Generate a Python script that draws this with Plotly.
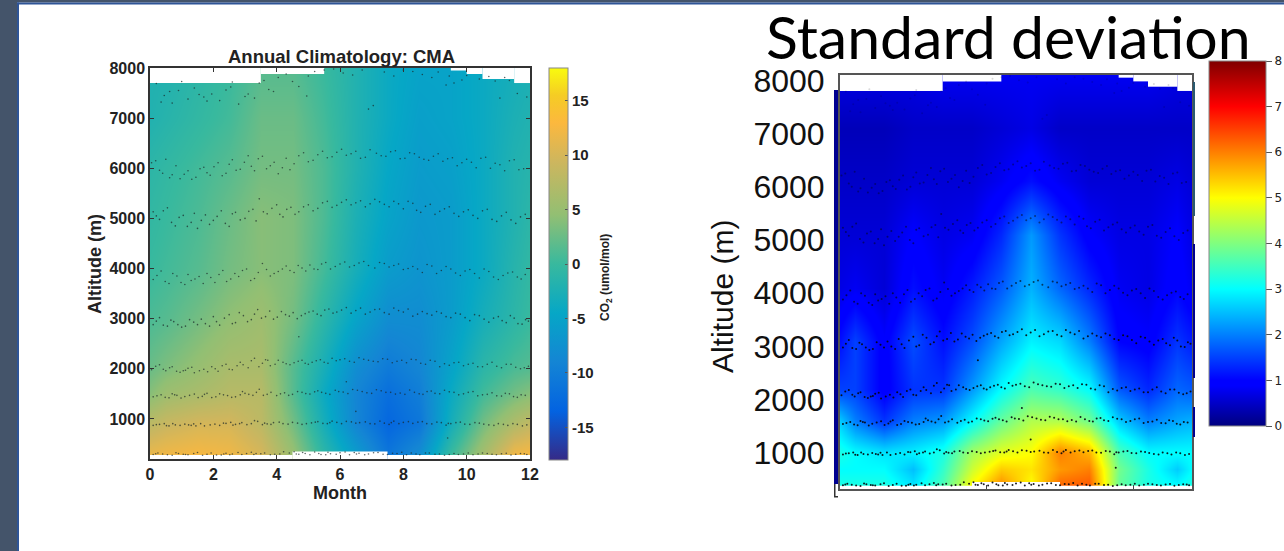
import plotly.graph_objects as go

W, H = 1284, 551

# ---- gridded values -------------------------------------------------------
months = [0, 0.5, 1.5, 2.5, 3.5, 4.5, 5.5, 6.5, 7.5, 8.5, 9.5, 10.5, 11.5, 12]

clim_alt = [200, 300, 900, 1500, 2000, 3000, 4000, 5000, 6000, 7000, 8000]
clim_200 = [12, 12.5, 12.5, 12, 10.5, 5, -1, -6, -11, -8, 0, 7, 13, 13]
clim_300 = [11.5, 12, 12.5, 12, 10, 5, -1, -6, -11, -8, 0, 6, 12, 12.5]
clim_900 = [8, 9, 10, 10, 8, 3, -3, -9, -13, -11, -3, 3, 7, 8.5]
clim_1500 = [4, 5.5, 6.5, 7.5, 7.5, 1.5, -4, -9, -12, -10, -4, 0.5, 3, 4]
clim_2000 = [2.5, 3.5, 5, 6.5, 6.5, 1.5, -3, -8, -10.5, -9, -5, -1, 1, 1.5]
clim_3000 = [1, 1.5, 3, 4.5, 5.5, 3, -1, -5, -8, -8, -6, -3, -1, 0]
clim_4000 = [0, 0.5, 1.5, 3, 4, 3.5, 0.5, -3, -6, -7, -6, -4, -1.5, -0.5]
clim_5000 = [-0.5, 0, 1, 2.5, 4, 3.5, 1, -2.5, -5, -6.5, -6, -4, -2, -1]
clim_6000 = [-1, -0.5, 0.5, 1.5, 3, 3, 1, -2, -4.5, -6, -5.5, -4, -2, -1.5]
clim_7000 = [-2, -1.5, -0.5, 0.5, 2.5, 2.5, 0.5, -2, -4, -5.5, -5, -4, -2.5, -2]
clim_8000 = [-2, -2, -1, 0, 1.5, 1.5, 0, -2, -4, -5, -5, -4, -3, -2.5]
clim_z = [clim_200, clim_300, clim_900, clim_1500, clim_2000, clim_3000,
          clim_4000, clim_5000, clim_6000, clim_7000, clim_8000]

std_alt = [200, 300, 600, 900, 1500, 2100, 3000, 4000, 5000, 6000, 7000, 8000]
std_200 = [3.2, 3.2, 3.2, 2.8, 3.6, 5.0, 5.9, 5.0, 6.2, 6.3, 3.8, 3.2, 3.0, 3.2]
std_300 = [3.2, 3.2, 3.2, 2.8, 3.6, 5.0, 5.9, 5.0, 6.2, 6.3, 3.8, 3.2, 3.0, 3.2]
std_600 = [3.0, 3.0, 3.0, 2.5, 3.4, 4.6, 5.4, 5.2, 5.8, 6.0, 3.9, 3.2, 2.6, 3.0]
std_900 = [3.2, 3.0, 2.8, 2.9, 3.2, 4.3, 4.8, 5.0, 6.0, 5.6, 3.6, 3.0, 3.0, 3.0]
std_1500 = [2.6, 2.0, 1.4, 2.0, 2.2, 3.0, 3.8, 4.4, 4.4, 3.9, 2.6, 2.0, 2.3, 2.4]
std_2100 = [1.5, 1.5, 0.9, 1.4, 1.4, 2.2, 3.0, 3.6, 3.4, 3.0, 1.7, 1.3, 1.8, 1.7]
std_3000 = [1.1, 1.5, 0.9, 1.6, 1.1, 1.6, 2.3, 2.9, 2.7, 2.0, 1.0, 0.9, 1.4, 1.2]
std_4000 = [0.7, 0.8, 0.6, 1.1, 0.8, 1.2, 1.7, 2.4, 1.8, 1.3, 0.8, 0.7, 1.0, 0.8]
std_5000 = [0.6, 0.6, 0.6, 0.9, 0.7, 0.8, 1.3, 2.2, 1.4, 0.9, 0.7, 0.7, 0.9, 0.7]
std_6000 = [0.5, 0.5, 0.5, 0.6, 0.6, 0.6, 0.8, 1.1, 0.8, 0.6, 0.6, 0.6, 0.7, 0.6]
std_7000 = [0.4, 0.4, 0.4, 0.5, 0.5, 0.5, 0.6, 0.7, 0.5, 0.5, 0.5, 0.5, 0.5, 0.5]
std_8000 = [0.7, 0.7, 0.7, 0.7, 0.8, 0.8, 0.8, 0.8, 0.8, 0.8, 0.8, 0.8, 0.7, 0.7]
std_z = [std_200, std_300, std_600, std_900, std_1500, std_2100, std_3000,
         std_4000, std_5000, std_6000, std_7000, std_8000]

# cells with no data (white): centre month, width, altitude limit
gap_top_month = [1.75, 4.5, 9.75, 10.25, 11.0, 11.75]
gap_top_width = [3.5, 2.0, 0.5, 0.5, 1.0, 0.5]
gap_top_floor = [7700, 7880, 7950, 7880, 7780, 7700]
gap_low_month = [2.25, 6.0, 9.75]
gap_low_width = [4.5, 3.0, 4.5]
gap_low_ceil = [280, 350, 280]

# ---- sampling locations ---------------------------------------------------
obs_300_m = [0.1,0.4,0.7,0.9,1.2,1.5,1.8,2.1,2.4,2.6,2.9,3.2,3.5,3.8,4.1,4.4,4.7,4.9,5.2,5.4,5.7,6.0,6.3,6.6,6.9,7.2,7.5,7.8,8.1,8.4,8.7,9.0,9.3,9.6,9.9,10.2,10.5,10.8,11.1,11.4,11.7,11.9,0.25,1.05,2.25,3.35,4.55,5.55,6.45,8.25,9.45,10.65,
             0.18,0.55,0.82,1.12,1.38,1.66,1.93,2.33,2.52,2.78,3.05,3.28,3.62,3.94,4.22,4.62,4.82,5.05,5.33,5.62,5.88,6.16,6.52,6.78,7.06,7.36,7.66,7.95,8.52,8.82,9.14,9.74,10.05,10.36,10.94,11.25,11.55,11.82]
obs_300_a = [290,300,275,310,285,330,295,280,315,300,290,335,305,285,300,320,295,310,340,290,305,325,285,315,300,330,290,310,285,300,320,295,275,310,300,285,320,295,305,280,310,290,320,295,280,310,345,285,330,320,290,310,
             305,285,325,290,310,275,320,300,285,330,310,290,320,295,345,300,330,285,310,335,295,340,300,285,325,295,315,335,285,320,300,290,320,300,285,315,295,305]
obs_900_m = [0.1,0.3,0.6,0.8,1.1,1.3,1.6,1.9,2.2,2.4,2.7,2.9,3.2,3.4,3.7,3.9,4.2,4.5,4.8,5.1,5.3,5.6,5.9,6.2,6.5,6.8,7.1,7.4,7.7,8.0,8.3,8.6,8.9,9.2,9.5,9.8,10.1,10.4,10.7,11.0,11.3,11.6,11.9,0.45,1.45,2.55,3.55,5.75,7.55,9.35,
             0.2,0.52,0.72,0.95,1.22,1.38,1.72,2.05,2.32,2.62,2.83,3.06,3.3,3.62,3.82,4.08,4.36,4.66,4.94,5.22,5.46,5.68,6.05,6.36,6.62,6.95,7.26,7.62,7.86,8.16,8.46,8.74,9.06,9.42,9.66,9.94,10.26,10.54,10.86,11.16,11.46,11.76]
obs_900_a = [870,890,860,880,895,870,905,880,870,910,890,925,905,950,900,925,905,930,890,920,945,905,930,950,915,940,900,915,955,930,910,945,900,925,905,935,890,915,880,905,870,890,880,905,860,930,885,955,890,875,
             885,865,905,870,880,900,860,895,915,875,905,885,965,915,890,935,895,915,905,935,910,925,905,940,925,905,955,925,905,945,935,905,935,910,925,895,925,895,870,890,905,860]
obs_1500_m = [0.1,0.35,0.6,0.85,1.1,1.4,1.65,1.95,2.2,2.45,2.7,3.0,3.25,3.45,3.7,4.0,4.25,4.5,4.8,5.05,5.3,5.55,5.85,6.1,6.4,6.7,7.0,7.3,7.6,7.9,8.2,8.5,8.75,9.0,9.3,9.6,9.9,10.2,10.5,10.8,11.1,11.35,11.6,11.85,0.7,1.8,2.85,5.2,8.05,10.35,
              0.22,0.48,0.78,0.98,1.25,1.52,1.72,2.08,2.32,2.58,2.92,3.12,3.36,3.58,3.82,4.12,4.38,4.66,4.92,5.42,5.68,5.96,6.25,6.55,6.85,7.15,7.45,7.75,8.35,8.62,8.88,9.15,9.45,9.75,10.05,10.65,10.95,11.22,11.48,11.72]
obs_1500_a = [1440,1480,1420,1470,1445,1495,1450,1425,1500,1465,1440,1510,1470,1590,1490,1465,1520,1490,1530,1495,1560,1510,1570,1535,1585,1545,1510,1560,1530,1515,1575,1500,1545,1510,1570,1530,1500,1545,1480,1520,1455,1500,1430,1470,1500,1510,1480,1540,1490,1460,
              1460,1430,1480,1415,1470,1425,1490,1440,1480,1430,1545,1490,1530,1470,1530,1500,1470,1545,1505,1530,1490,1545,1505,1570,1520,1580,1530,1495,1530,1490,1555,1500,1540,1480,1530,1490,1460,1510,1445,1480]
obs_2100_m = [0.05,0.3,0.5,0.7,0.95,1.2,1.4,1.7,1.95,2.15,2.4,2.6,2.85,3.1,3.3,3.55,3.8,4.05,4.3,4.55,4.8,5.0,5.25,5.5,5.75,6.0,6.3,6.6,6.9,7.2,7.5,7.8,8.1,8.4,8.7,9.0,9.3,9.6,9.9,10.2,10.5,10.8,11.1,11.4,11.7,11.95,1.05,2.75,3.65,9.15,
              0.18,0.42,0.62,0.84,1.12,1.32,1.56,1.82,2.06,2.28,2.5,2.94,3.2,3.44,3.72,3.95,4.2,4.42,4.68,4.9,5.12,5.38,5.62,5.88,6.15,6.45,6.75,7.05,7.35,7.65,7.95,8.25,8.55,8.85,9.45,9.75,10.05,10.35,10.65,10.95,11.25,11.55,11.82]
obs_2100_a = [1980,2080,1960,2040,1930,2010,1920,1990,2040,1950,2090,1980,2130,2020,2210,2110,2060,2170,2100,2120,2170,2090,2160,2130,2210,2180,2150,2220,2170,2140,2190,2150,2120,2180,2090,2150,2100,2120,2060,2110,2040,2130,2020,2090,2000,2050,1960,2060,2180,2040,
              2050,1990,2020,1950,1970,2030,1960,1940,2000,2060,1990,2080,2160,2040,2170,2090,2130,2080,2150,2110,2130,2180,2110,2160,2200,2130,2190,2150,2200,2120,2170,2190,2110,2170,2070,2130,2090,2040,2090,2050,2090,2030,2020]
obs_3000_m = [0.1,0.3,0.55,0.75,1.0,1.25,1.5,1.75,2.0,2.2,2.5,2.7,2.95,3.2,3.4,3.65,3.9,4.15,4.4,4.65,4.9,5.15,5.4,5.65,5.9,6.2,6.5,6.8,7.1,7.4,7.7,8.0,8.3,8.6,8.9,9.2,9.5,9.8,10.1,10.4,10.7,11.0,11.25,11.5,11.75,11.95,
              0.2,0.42,0.66,0.88,1.12,1.38,1.62,1.88,2.1,2.35,2.6,2.82,3.08,3.3,3.52,3.78,4.02,4.28,4.52,4.78,5.02,5.28,5.52,5.78,6.05,6.35,6.65,6.95,7.25,7.55,7.85,8.15,8.45,8.75,9.05,9.35,9.65,9.95,10.25,10.55,10.85,11.12,11.38,11.62,11.86]
obs_3000_a = [2880,3020,2850,2940,2830,2980,2880,2900,3040,2870,3080,2920,3060,2980,3180,3040,2990,3140,3050,3000,3100,3150,3060,3190,3130,3220,3160,3090,3180,3120,3210,3130,3050,3140,3070,3110,3020,3090,2960,3060,2930,3040,2920,3010,2890,2950,
              2950,2870,2970,2880,2850,2930,2990,2850,2940,3010,2900,3120,2940,3090,3010,3150,3030,3080,3120,3060,3130,3090,3170,3110,3170,3110,3210,3130,3190,3090,3160,3190,3090,3100,3140,3040,3110,3020,3080,2990,3010,2960,3060,2900,2980]
obs_4000_m = [0.1,0.35,0.6,0.85,1.1,1.3,1.55,1.8,2.05,2.3,2.55,2.8,3.05,3.3,3.55,3.8,4.05,4.3,4.55,4.8,5.05,5.3,5.55,5.85,6.15,6.45,6.75,7.1,7.4,7.7,8.0,8.3,8.6,8.9,9.2,9.5,9.8,10.1,10.4,10.7,11.0,11.3,11.6,11.85,
              0.22,0.48,0.72,0.98,1.2,1.42,1.68,1.92,2.18,2.42,2.68,2.92,3.18,3.42,3.68,3.92,4.18,4.42,4.68,4.92,5.18,5.42,5.7,6.0,6.3,6.6,6.9,7.25,7.55,7.85,8.15,8.45,8.75,9.05,9.35,9.65,9.95,10.25,10.55,10.85,11.15,11.45,11.72]
obs_4000_a = [3780,3950,3700,3850,3680,3760,3840,3900,3720,3960,3790,3840,3990,3800,4100,3850,3940,4050,3920,4010,4070,3980,4120,4040,4130,4060,4140,4010,4100,4060,3980,4040,3920,4050,3960,3990,3860,3980,3810,3940,3780,3910,3830,3880,
              3860,3740,3900,3720,3880,3790,3700,3820,3880,3740,3900,3960,3760,3920,3980,3900,3990,3960,4060,3950,3990,4090,3990,4090,4030,4110,4060,4120,4030,4090,4000,3990,4080,3900,4040,3910,3950,3900,3990,3830,3860,3930,3790]
obs_5000_m = [0.1,0.3,0.55,0.8,1.05,1.3,1.5,1.75,2.0,2.25,2.5,2.7,3.0,3.25,3.45,3.7,4.0,4.2,4.45,4.7,5.0,5.3,5.6,5.9,6.2,6.5,6.8,7.1,7.4,7.7,8.0,8.3,8.55,8.85,9.15,9.45,9.75,10.05,10.35,10.65,10.95,11.25,11.55,11.85,
              0.2,0.42,0.68,0.92,1.18,1.4,1.62,1.88,2.12,2.38,2.6,2.85,3.12,3.35,3.58,3.85,4.1,4.32,4.58,4.85,5.15,5.45,5.75,6.05,6.35,6.65,6.95,7.25,7.55,7.85,8.15,8.42,8.7,9.0,9.3,9.6,9.9,10.2,10.5,10.8,11.1,11.4,11.7]
obs_5000_a = [5130,4980,5210,4850,5060,4920,4800,5070,4960,5150,4840,5120,5000,5180,5390,5090,5270,5030,5220,5130,5270,5200,5340,5260,5370,5310,5230,5380,5280,5340,5190,5300,5120,5280,5140,5230,5040,5170,5000,5180,4940,5120,4900,5080,
              5050,5150,4920,5020,4840,5100,4960,4880,5040,4900,5090,4970,5140,4950,5130,5200,5080,5180,5080,5230,5150,5310,5220,5320,5270,5350,5290,5330,5230,5290,5340,5160,5240,5080,5190,5100,5130,5060,5150,4980,5050,4970,5030]
obs_6000_m = [0.05,0.3,0.5,0.7,0.95,1.2,1.45,1.7,1.9,2.15,2.4,2.6,2.85,3.1,3.3,3.55,3.8,4.05,4.3,4.55,4.85,5.15,5.45,5.75,6.05,6.35,6.65,6.95,7.3,7.6,7.9,8.2,8.5,8.8,9.1,9.4,9.7,10.0,10.3,10.6,10.9,11.2,11.5,11.8,
              0.18,0.4,0.62,0.82,1.08,1.32,1.58,1.8,2.02,2.28,2.5,2.72,2.98,3.2,3.42,3.68,3.92,4.18,4.42,4.7,5.0,5.3,5.6,5.9,6.2,6.5,6.8,7.15,7.45,7.75,8.05,8.35,8.65,8.95,9.25,9.55,9.85,10.15,10.45,10.75,11.05,11.35,11.65]
obs_6000_a = [6110,5960,6180,5870,5790,5950,5820,6020,5860,6110,5900,6170,5980,6250,5950,6240,6050,5890,6200,6090,6310,6160,6340,6230,6380,6290,6200,6370,6250,6330,6190,6310,6220,6160,6290,6190,6050,6180,6010,6220,6100,5950,6170,5990,
              6150,5900,5810,6050,5880,5780,5990,5910,6030,5850,6080,5960,6120,6040,6190,5990,6120,6010,5970,6250,6130,6270,6210,6320,6260,6340,6220,6300,6240,6350,6200,6290,6180,6240,6140,6210,6110,6120,6200,6000,6070,6150,5970]
obs_7500_m = [0.2,0.45,0.7,0.9,1.2,1.4,1.7,1.95,2.2,2.55,2.8,3.1,3.3,3.6,3.9,4.3,4.7,5.2,5.8,6.4,6.9,7.4,8.0,8.6,9.1,9.6,10.0,10.4,10.9,11.2,11.6,11.9,2.6,1.0,4.95,7.05,9.35,11.05,
              0.35,0.62,1.55,1.8,2.4,3.0,3.45,3.75,4.05,4.5,5.0,5.5,6.1,6.7,7.7,8.3,8.9,9.45,9.85,10.7,11.35]
obs_7500_a = [7690,7450,7300,7550,7380,7600,7420,7480,7350,7620,7280,7480,7400,7750,7530,7880,7630,7930,7980,7860,7180,7920,7960,7870,7920,7700,7850,7780,7740,7810,7490,7420,7720,7730,7440,7250,7660,7400,
              7320,7530,7470,7340,7560,7430,7700,7570,7810,7730,7840,7960,7900,7960,7840,7930,7810,7840,7760,7830,7750]
obs_stray_m = [6.5, 6.2, 4.7, 9.4]
obs_stray_a = [1150, 1740, 2640, 620]

obs_month = (obs_300_m + obs_900_m + obs_1500_m + obs_2100_m + obs_3000_m +
             obs_4000_m + obs_5000_m + obs_6000_m + obs_7500_m + obs_stray_m)
obs_alt = (obs_300_a + obs_900_a + obs_1500_a + obs_2100_a + obs_3000_a +
           obs_4000_a + obs_5000_a + obs_6000_a + obs_7500_a + obs_stray_a)

# ---- axis labels ----------------------------------------------------------
alt_ticks = [1000, 2000, 3000, 4000, 5000, 6000, 7000, 8000]
month_ticks = [0, 2, 4, 6, 8, 10, 12]
clim_cb_ticks = [-15, -10, -5, 0, 5, 10, 15]
clim_cb_text = ["-15", "-10", "-5", "0", "5", "10", "15"]
std_cb_ticks = [0, 1, 2, 3, 4, 5, 6, 7, 8]
# the pasted right panel has its altitude labels sitting a little off the scale
std_tick_shift = -100

parula = [[0.0, "#352A87"], [0.125, "#0363E1"], [0.25, "#1485D4"], [0.375, "#06A7C6"],
          [0.5, "#38B99E"], [0.625, "#92BF73"], [0.76, "#CDB65E"], [0.86, "#FCB83E"],
          [0.93, "#F5CC24"], [1.0, "#F9FB0E"]]
jet = [[0.0, "#00007F"], [0.11, "#0000FF"], [0.125, "#0000FF"], [0.375, "#00FFFF"],
       [0.625, "#FFFF00"], [0.875, "#FF0000"], [1.0, "#7F0000"]]

# pixel geometry
L = dict(x0=150, x1=530, y0=68, y1=459)
R = dict(x0=840, x1=1192, y0=75, y1=489)
fx = lambda p: p / W
fy = lambda p: 1 - p / H

ARIAL = "Liberation Sans"
fig = go.Figure()

fig.add_trace(go.Heatmap(
    x=months, y=clim_alt, z=clim_z, zmin=-18, zmax=18, zsmooth="best", colorscale=parula,
    xaxis="x", yaxis="y", hoverinfo="skip",
    colorbar=dict(x=fx(549), xanchor="left", y=fy(68), yanchor="top",
                  len=392 / H, lenmode="fraction", thickness=19, thicknessmode="pixels",
                  xpad=0, ypad=0, outlinecolor="#888", outlinewidth=1,
                  tickvals=clim_cb_ticks, ticktext=clim_cb_text, ticks="inside", ticklen=3,
                  tickcolor="#555",
                  tickfont=dict(family=ARIAL, size=15, color="#222", weight=700))))
fig.add_trace(go.Heatmap(
    x=months, y=std_alt, z=std_z, zmin=0, zmax=8, zsmooth="best", colorscale=jet,
    xaxis="x2", yaxis="y2", hoverinfo="skip",
    colorbar=dict(x=fx(1209), xanchor="left", y=fy(61), yanchor="top",
                  len=365 / H, lenmode="fraction", thickness=57, thicknessmode="pixels",
                  xpad=0, ypad=0, outlinecolor="#888", outlinewidth=1,
                  tickvals=std_cb_ticks, ticks="outside", ticklen=6, tickcolor="#555",
                  tickfont=dict(family="DejaVu Sans", size=12, color="#222"))))

gap_month = gap_top_month + gap_low_month
gap_width = gap_top_width + gap_low_width
gap_base = gap_top_floor + [150] * len(gap_low_month)
gap_size = [8100 - f for f in gap_top_floor] + [c - 150 for c in gap_low_ceil]


def std_dot_opacity(alt):
    # the pasted panel's dots fade away with altitude
    if alt > 7000:
        return 0.15
    if alt > 5600:
        return 0.4
    if alt > 4500:
        return 0.5
    if alt > 3500:
        return 0.65
    return 0.9


dot_style = {"x": dict(size=1.6, color="#1a2628", opacity=0.7),
             "x2": dict(size=2.0, color="#05070c", opacity=[std_dot_opacity(a) for a in obs_alt])}
for xa, ya in (("x", "y"), ("x2", "y2")):
    fig.add_trace(go.Bar(x=gap_month, y=gap_size, base=gap_base, width=gap_width,
                         marker=dict(color="white", line=dict(width=0)),
                         xaxis=xa, yaxis=ya, showlegend=False, hoverinfo="skip"))
    fig.add_trace(go.Scatter(x=obs_month, y=obs_alt, mode="markers",
                             marker=dict(line=dict(width=0), **dot_style[xa]),
                             xaxis=xa, yaxis=ya, showlegend=False, hoverinfo="skip"))

left_axis = dict(showline=True, linecolor="#333", linewidth=1.5, mirror="ticks", ticks="inside",
                 ticklen=4, tickcolor="#333", showgrid=False, zeroline=False,
                 tickfont=dict(family=ARIAL, size=16, color="#222", weight=700))
fig.update_layout(
    width=W, height=H, margin=dict(l=0, r=0, t=0, b=0, autoexpand=False), paper_bgcolor="white",
    plot_bgcolor="white", showlegend=False, barmode="overlay",
    xaxis=dict(domain=[fx(L["x0"]), fx(L["x1"])], range=[0, 12], tickvals=month_ticks, **left_axis),
    yaxis=dict(domain=[fy(L["y1"]), fy(L["y0"])], range=[200, 8000], tickvals=alt_ticks, **left_axis),
    xaxis2=dict(domain=[fx(R["x0"]), fx(R["x1"])], range=[0, 12], tickvals=[5, 10],
                showticklabels=False, ticks="inside", ticklen=4, tickcolor="#444", anchor="y2",
                showline=True, linecolor="#555", linewidth=2, mirror=True, showgrid=False,
                zeroline=False),
    yaxis2=dict(domain=[fy(R["y1"]), fy(R["y0"])], range=[220, 8000], anchor="x2",
                tickvals=[a + std_tick_shift for a in alt_ticks], ticktext=[str(a) for a in alt_ticks],
                ticks="", ticklabelstandoff=7, showline=True, linecolor="#555", linewidth=2,
                mirror=True, showgrid=False, zeroline=False,
                tickfont=dict(family=ARIAL, size=32, color="#111")),
)


def px_note(text, x, y, size, family=ARIAL, weight=400, angle=0, color="#222"):
    fig.add_annotation(text=text, x=fx(x), y=fy(y), xref="paper", yref="paper", showarrow=False,
                       xanchor="center", yanchor="middle", textangle=angle,
                       font=dict(family=family, size=size, color=color, weight=weight))


px_note("Annual Climatology: CMA", 341, 57, 18.5, weight=700)
px_note("Month", 340, 493, 18, weight=700)
px_note("Altitude (m)", 95, 264, 18, weight=700, angle=-90)
px_note("CO<sub>2</sub> (umol/mol)", 606, 278, 12, weight=700, angle=-90)
px_note("Standard deviation", 1008, 36, 59, family="Lato", color="#000")
px_note("Altitude (m)", 722, 297, 30, angle=-90, color="#111")


def rect(x0, y0, x1, y1, color):
    fig.add_shape(type="rect", xref="paper", yref="paper", x0=fx(x0), x1=fx(x1),
                  y0=fy(y1), y1=fy(y0), fillcolor=color, line=dict(width=0), layer="above")


# slide frame
rect(0, 0, 17, H, "#44546A")
rect(0, 0, W, 2.5, "#44546A")
rect(17, 2.5, 19, H, "#2F5597")
rect(17, 2.5, W, 4.5, "#2F5597")
# stray scan fragments around the pasted panel
rect(834, 90, 838, 484, "#000090")
rect(834, 484, 835.5, 497, "#333333")
rect(834, 496, 838, 497.5, "#333333")
rect(1193, 82, 1195, 216, "#2a5a70")
rect(1193, 244, 1195, 378, "#000090")
rect(1193, 407, 1195, 437, "#000090")

fig.write_html("out.html", config={"displayModeBar": False},
               post_script="document.body.style.margin='0';")
